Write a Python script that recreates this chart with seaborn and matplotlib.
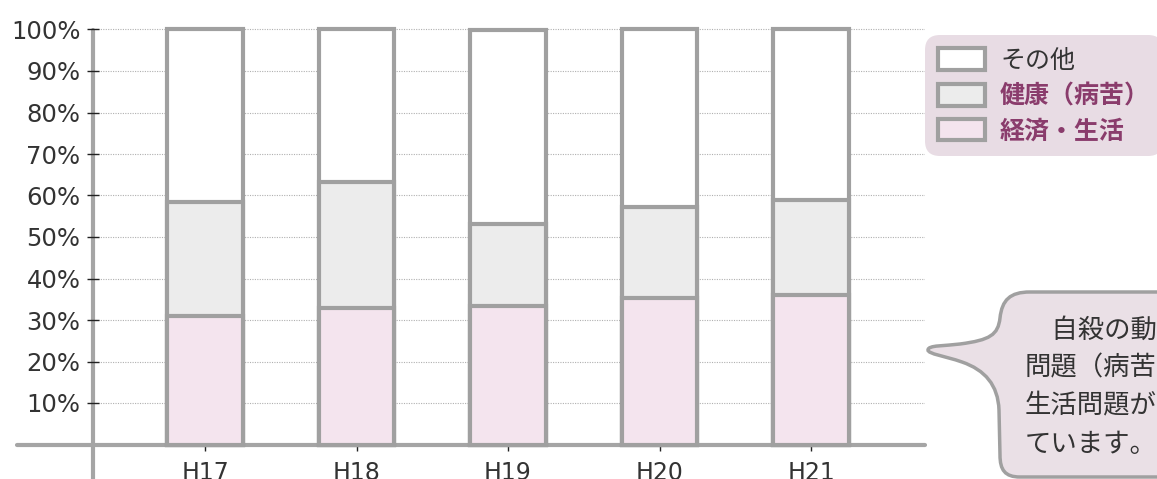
import numpy as np
import pandas as pd
import matplotlib
matplotlib.use("Agg")
import matplotlib.pyplot as plt
import seaborn as sns
from matplotlib.patches import Patch, PathPatch
from matplotlib.path import Path

# data (share of suicide motives, %)
years = ["H17", "H18", "H19", "H20", "H21"]
keizai = [31.0, 32.9, 33.4, 35.3, 36.0]   # 経済・生活
kenko = [27.4, 30.4, 19.7, 21.9, 22.9]    # 健康（病苦）
sonota = [100 - a - b for a, b in zip(keizai, kenko)]  # その他
legend_labels = ["その他", "健康（病苦）", "経済・生活"]
bubble_lines = ["\u3000自殺の動", "問題（病苦", "生活問題が", "ています。"]

W, H = 1157, 479
sns.set_theme(style="white")
plt.rcParams["font.family"] = ["Noto Sans CJK JP", "DejaVu Sans"]

fig = plt.figure(figsize=(W / 100, H / 100), dpi=100)

def fx(x):
    return x / W

def fy(y):
    return 1 - y / H

# axes: y axis at x=93, 0% at y=444.5, 100% at y=29.5
x0, x1 = 93, 925
y_zero, px_per_pct = 444.5, 4.15
ytop = 102
ax = fig.add_axes([fx(x0), fy(y_zero), (x1 - x0) / W, ytop * px_per_pct / H])

df = pd.DataFrame({"year": years, "keizai": keizai, "kenko": kenko, "sonota": sonota})
df["top_kenko"] = df["keizai"] + df["kenko"]
df["top_all"] = df["top_kenko"] + df["sonota"]

edge = "#a0a0a0"
bar_kws = dict(width=0.5, edgecolor=edge, linewidth=3.0, saturation=1, ax=ax, order=years)
sns.barplot(data=df, x="year", y="top_all", color="white", **bar_kws)
sns.barplot(data=df, x="year", y="top_kenko", color="#ececec", **bar_kws)
sns.barplot(data=df, x="year", y="keizai", color="#f4e4ee", **bar_kws)
for p in ax.patches:
    p.set_clip_on(False)

ax.set_ylim(0, ytop)
bar_px = 151.5
ax.set_xlim(-(205 - x0) / bar_px, (x1 - 205) / bar_px)
ax.set_xlabel("")
ax.set_ylabel("")
for s in ax.spines.values():
    s.set_visible(False)

ax.set_axisbelow(True)
ax.yaxis.grid(True, linestyle=(0, (1, 1.2)), color="#b0b0b0", linewidth=0.8)
ax.xaxis.grid(False)

ticks = list(range(10, 101, 10))
ax.set_yticks(ticks)
ax.set_yticklabels([f"{t}%" for t in ticks], family="DejaVu Sans")
ax.set_xticks(range(len(years)))
ax.set_xticklabels(years, family="DejaVu Sans")
ax.tick_params(axis="y", left=True, direction="inout", length=8, width=1,
               color="#222222", labelsize=17.5, labelcolor="#333333", pad=5)
ax.tick_params(axis="x", bottom=True, direction="out", length=4, width=1,
               color="#222222", labelsize=17, labelcolor="#333333", pad=8)

# axis lines (gray, thick), the y one runs below the x axis, the x one left of it
ax.axvline(ax.get_xlim()[0], ymin=-0.2, ymax=100 / ytop, color="#a5a5a5",
           linewidth=3, clip_on=False, zorder=0.45)
ax.axhline(0, xmin=(17 - x0) / (x1 - x0), xmax=1, color="#a5a5a5",
           linewidth=3, clip_on=False, zorder=0.45)

# legend
colors = ["white", "#ececec", "#f4e4ee"]
handles = [Patch(facecolor=c, edgecolor=edge, linewidth=3.0) for c in colors]
leg = fig.legend(handles, legend_labels, loc="upper left",
                 bbox_to_anchor=(fx(925), fy(35)), frameon=True,
                 prop={"size": 18, "weight": "bold"}, handlelength=1.9,
                 handleheight=0.95, handletextpad=0.6, labelspacing=0.42,
                 borderpad=0.5, borderaxespad=0)
frame = leg.get_frame()
frame.set_facecolor("#e8dce4")
frame.set_edgecolor("none")
frame.set_alpha(1)
frame.set_boxstyle("round,pad=0,rounding_size=0.6")
for i, t in enumerate(leg.get_texts()):
    if i == 0:
        t.set_color("#333333")
        t.set_fontweight("normal")
    else:
        t.set_color("#8a3c6c")

# speech bubble
verts = [
    (1170, 292), (1030, 292),
    (1010, 292), (1002, 300), (1000, 318),
    (998, 335), (990, 340), (960, 344),
    (945, 346), (928, 345), (928, 350),
    (928, 354), (945, 356), (962, 362),
    (985, 370), (998, 385), (999, 410),
    (1000, 455),
    (1000, 470), (1005, 477), (1020, 477),
    (1170, 477), (1170, 292),
]
codes = [Path.MOVETO, Path.LINETO,
         Path.CURVE4, Path.CURVE4, Path.CURVE4,
         Path.CURVE4, Path.CURVE4, Path.CURVE4,
         Path.CURVE4, Path.CURVE4, Path.CURVE4,
         Path.CURVE4, Path.CURVE4, Path.CURVE4,
         Path.CURVE4, Path.CURVE4, Path.CURVE4,
         Path.LINETO,
         Path.CURVE4, Path.CURVE4, Path.CURVE4,
         Path.LINETO, Path.CLOSEPOLY]
bubble = PathPatch(Path([(fx(a), fy(b)) for a, b in verts], codes),
                   transform=fig.transFigure, facecolor="#eae0e6",
                   edgecolor=edge, linewidth=2.5)
fig.add_artist(bubble)
for i, line in enumerate(bubble_lines):
    fig.text(fx(1025), fy(330 + 38 * i), line, fontsize=19, color="#333333",
             va="center", ha="left")

fig.savefig("out.png", dpi=100)
